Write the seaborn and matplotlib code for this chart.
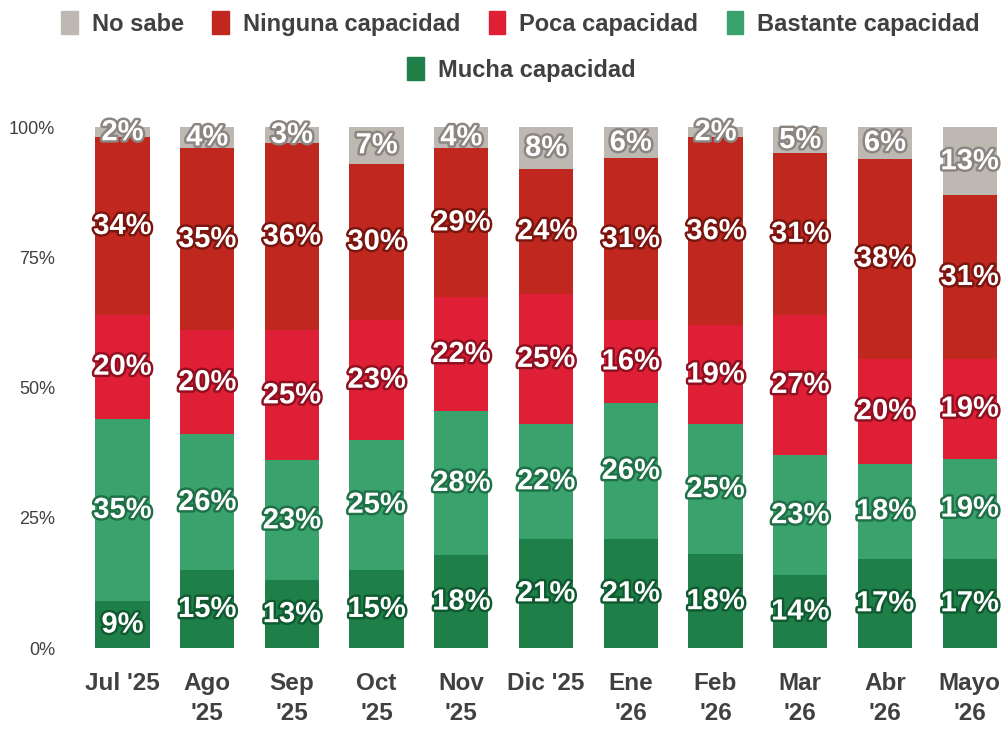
import numpy as np
import pandas as pd
import seaborn as sns
import matplotlib.pyplot as plt
import matplotlib.patheffects as pe
from matplotlib.patches import Patch

months = ["Jul '25", "Ago\n'25", "Sep\n'25", "Oct\n'25", "Nov\n'25", "Dic '25",
          "Ene\n'26", "Feb\n'26", "Mar\n'26", "Abr\n'26", "Mayo\n'26"]

mucha = [9, 15, 13, 15, 18, 21, 21, 18, 14, 17, 17]
bastante = [35, 26, 23, 25, 28, 22, 26, 25, 23, 18, 19]
poca = [20, 20, 25, 23, 22, 25, 16, 19, 27, 20, 19]
ninguna = [34, 35, 36, 30, 29, 24, 31, 36, 31, 38, 31]
no_sabe = [2, 4, 3, 7, 4, 8, 6, 2, 5, 6, 13]

series = ["Mucha capacidad", "Bastante capacidad", "Poca capacidad", "Ninguna capacidad", "No sabe"]
colors = {"Mucha capacidad": "#1f7f48", "Bastante capacidad": "#3aa26c",
          "Poca capacidad": "#df1f35", "Ninguna capacidad": "#c0281f", "No sabe": "#bdb8b2"}
strokes = {"Mucha capacidad": "#0f5a30", "Bastante capacidad": "#1f7046",
           "Poca capacidad": "#8f1020", "Ninguna capacidad": "#7a150f", "No sabe": "#8a8580"}

df = pd.DataFrame({"mes": months, "Mucha capacidad": mucha, "Bastante capacidad": bastante,
                   "Poca capacidad": poca, "Ninguna capacidad": ninguna, "No sabe": no_sabe})
tot = df[series].sum(axis=1)

sns.set_style("white")
plt.rcParams['font.family'] = ['Liberation Sans', 'DejaVu Sans']

fig = plt.figure(figsize=(10.01, 7.31), dpi=100)
ax = fig.add_axes([0.08, 0.1135, 0.92, 0.7127])

# 100% apilado: cada mes se normaliza a su total
bottom = np.zeros(len(months))
for s in series:
    share = (df[s] / tot).values
    sns.barplot(x=df["mes"], y=share, bottom=bottom, color=colors[s], width=0.64,
                ax=ax, saturation=1, linewidth=0)
    for i, (v, b) in enumerate(zip(df[s], bottom)):
        ax.text(i, b + share[i] / 2, f"{v}%", ha="center", va="center", color="white",
                fontsize=21, fontweight="bold", clip_on=False,
                path_effects=[pe.withStroke(linewidth=3.5, foreground=strokes[s])])
    bottom = bottom + share

ax.set_ylim(0, 1)
ax.set_xlim(-0.5, 10.37)
ax.set_yticks([0, 0.25, 0.5, 0.75, 1.0])
ax.set_yticklabels(["0%", "25%", "50%", "75%", "100%"], fontsize=13, color="#404040")
ax.tick_params(axis="y", length=0, pad=18)
ax.tick_params(axis="x", length=0, pad=17)
for lab in ax.get_xticklabels():
    lab.set_fontsize(17.5)
    lab.set_fontweight("bold")
    lab.set_color("#404040")
    lab.set_linespacing(1.4)
ax.set_xlabel("")
ax.set_ylabel("")
sns.despine(ax=ax, left=True, bottom=True)

row1 = ["No sabe", "Ninguna capacidad", "Poca capacidad", "Bastante capacidad"]
h1 = [Patch(color=colors[s]) for s in row1]
kw = dict(frameon=False, handlelength=0.7, handleheight=1.1, handletextpad=0.6,
          columnspacing=1.2, prop={"size": 17, "weight": "bold"}, labelcolor="#404040")
fig.legend(h1, row1, loc="center", bbox_to_anchor=(0.52, 0.968), ncol=4, **kw)
fig.legend([Patch(color=colors["Mucha capacidad"])], ["Mucha capacidad"], loc="center",
           bbox_to_anchor=(0.521, 0.905), ncol=1, **kw)

fig.savefig("out.png", dpi=100)
